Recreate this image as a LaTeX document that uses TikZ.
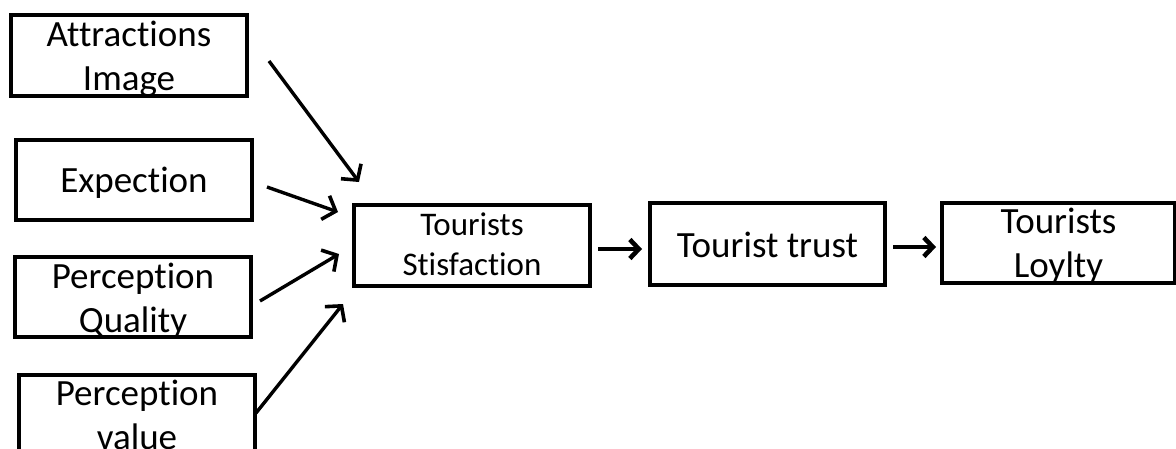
\documentclass[tikz,border=0pt]{standalone}
\usepackage{fontspec}
\setmainfont{Carlito}[Ligatures={NoCommon,NoContextual}]
\usetikzlibrary{arrows.meta}
\begin{document}
\begin{tikzpicture}[x=1pt,y=-1pt,
  box/.style={draw,line width=3.6pt,rectangle,inner sep=0pt},
  txt/.style={anchor=base,inner sep=0pt,font=\fontsize{37}{44}\selectfont},
  txtsm/.style={anchor=base,inner sep=0pt,font=\fontsize{33}{40}\selectfont},
  link/.style={line width=3.4pt,-{Straight Barb[length=11pt,width=25pt,line width=3.6pt]}},
  shortlink/.style={line width=4.6pt,-{Straight Barb[length=9pt,width=19pt,line width=4.6pt]}}]
\useasboundingbox (0,0) rectangle (1176,448);
\clip (0,0) rectangle (1176,448);
% input factors
\node[box,minimum width=236pt,minimum height=81pt] (img) at (129,55.5) {};
\node[txt] (imgA) at (129,46) {Attractions};
\node[txt] (imgB) at (129,90) {Image};
\node[box,minimum width=236pt,minimum height=80pt] (exp) at (134,180) {};
\node[txt] (expA) at (134,192) {Expection};
\node[box,minimum width=236pt,minimum height=80pt] (qual) at (133,297) {};
\node[txt] (qualA) at (133,288) {Perception};
\node[txt] (qualB) at (133,332) {Quality};
\node[box,minimum width=236pt,minimum height=100pt] (val) at (137,425) {};
\node[txt] (valA) at (137,405) {Perception};
\node[txt] (valB) at (137,449) {value};
% chain
\node[box,minimum width=236pt,minimum height=81pt] (sat) at (472,245.5) {};
\node[txtsm] (satA) at (472,235) {Tourists};
\node[txtsm] (satB) at (472,275) {Stisfaction};
\node[box,minimum width=235pt,minimum height=82pt] (trust) at (767.5,244) {};
\node[txt] (trustA) at (767.5,257) {Tourist trust};
\node[box,minimum width=233pt,minimum height=80pt] (loy) at (1058.5,243) {};
\node[txt] (loyA) at (1058.5,233) {Tourists};
\node[txt] (loyB) at (1058.5,277) {Loylty};
% arrow end points
\coordinate (t1) at (269,61);  \coordinate (h1) at (359,182);
\coordinate (t2) at (267,187); \coordinate (h2) at (338,212);
\coordinate (t3) at (260,301); \coordinate (h3) at (339,254);
\coordinate (t4) at (256,413); \coordinate (h4) at (343,304);
\coordinate (t5) at (598,249); \coordinate (h5) at (642,249);
\coordinate (t6) at (893,247); \coordinate (h6) at (936,247);
\draw[link] (t1) -- (h1);
\draw[link] (t2) -- (h2);
\draw[link] (t3) -- (h3);
\draw[link] (t4) -- (h4);
\draw[shortlink] (t5) -- (h5);
\draw[shortlink] (t6) -- (h6);
\end{tikzpicture}
\end{document}
